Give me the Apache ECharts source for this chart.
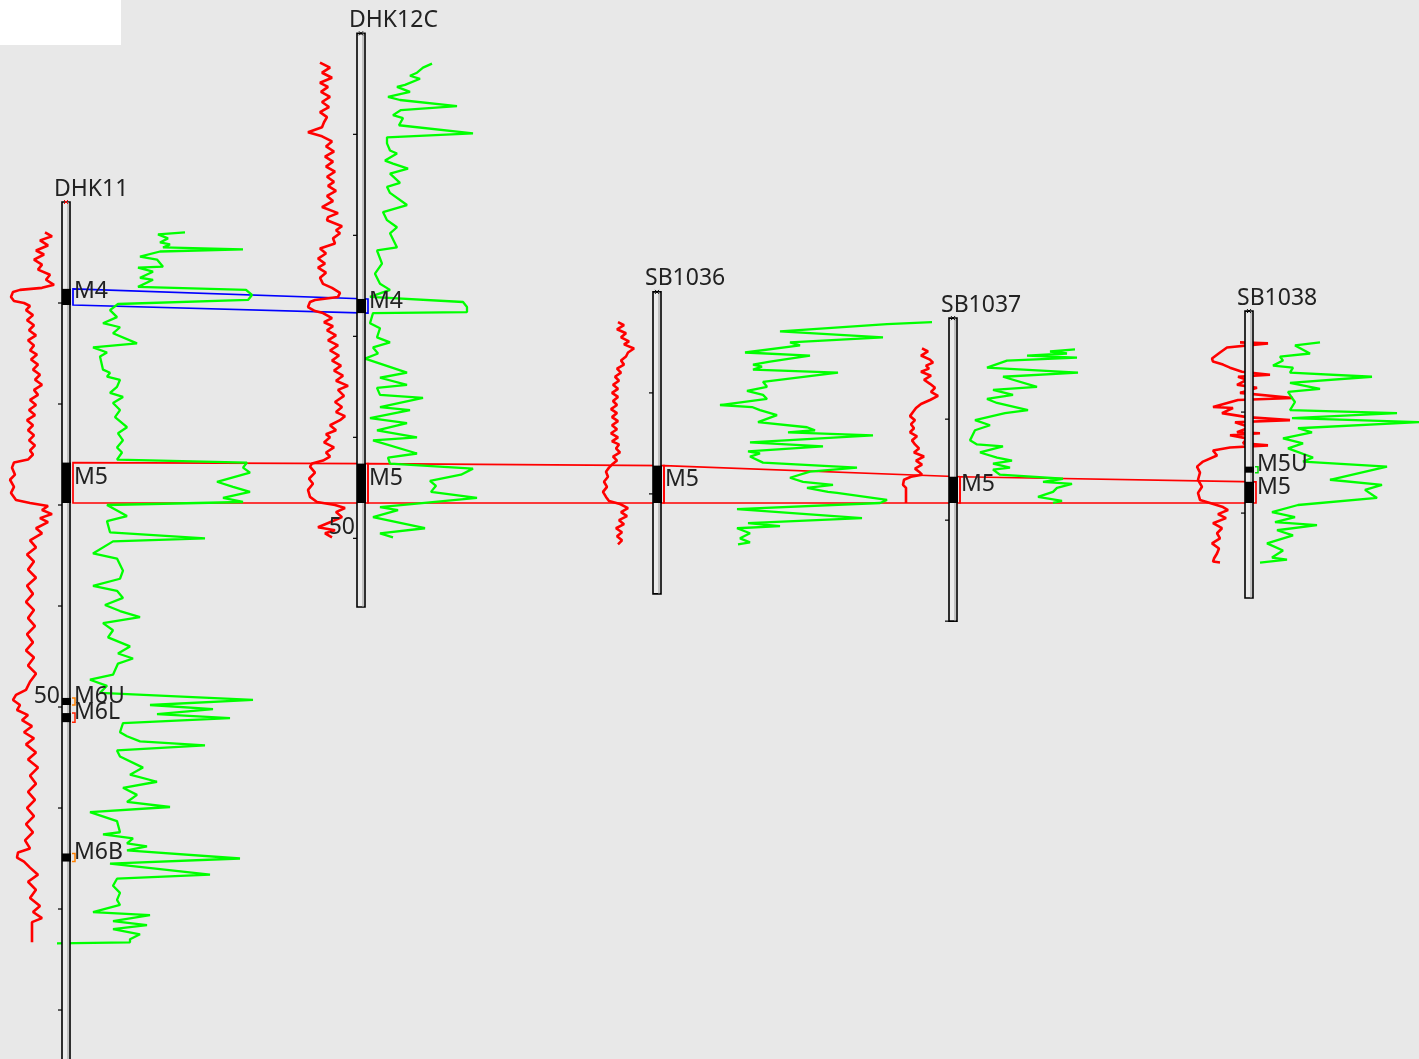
<!DOCTYPE html>
<html>
<head>
<meta charset="utf-8">
<title>Well correlation</title>
<script src="https://cdn.jsdelivr.net/npm/echarts@6/dist/echarts.min.js"></script>
<style>
  html, body { margin: 0; padding: 0; background: #e8e8e8; }
  #chart { width: 1419px; height: 1059px; }
</style>
</head>
<body>
<div id="chart"></div>
<script>
// wells along the section
const wellNames = ["DHK11", "DHK12C", "SB1036", "SB1037", "SB1038"];
const wellDistance = [66, 361, 657, 953, 1249];
const wellTotalDepth = [86, 56.8, 29.9, 30.0, 28.4];

// seam picks (m below collar)
const seamWell = [0, 0, 0, 0, 0, 1, 1, 2, 3, 4, 4];
const seamName = ["M4", "M5", "M6U", "M6L", "M6B", "M4", "M5", "M5", "M5", "M5U", "M5"];
const seamTop = [8.6, 25.8, 49.1, 50.6, 64.5, 26.3, 42.6, 17.2, 15.7, 15.4, 16.9];
const seamBase = [10.2, 29.8, 49.8, 51.5, 65.3, 27.7, 46.5, 20.9, 18.3, 16.0, 19.0];

// correlated seams
const corrSeams = ["M4", "M5"];
const corrColors = ["#0000ff", "#ff0000"];
// seams with no partner get a little coloured bracket
const loneSeams = ["M6U", "M6L", "M6B", "M5U"];
const loneColors = ["#ff8000", "#ff2000", "#ff8000", "#00dd00"];

// section is flattened on the base of M5
const flatSeam = "M5";
const flatDatum = 49.8;

// logs: [depth m, value]
const dhk11Red = [[3.0,39],[3.4,46],[3.8,34],[4.3,42],[4.8,30],[5.2,38],[5.7,28],[6.2,36],[6.7,32],[7.2,44],[7.7,40],[8.2,48],[8.5,36],[8.7,14],[8.9,7],[9.4,5],[9.8,8],[10.0,18],[10.3,24],[10.7,20],[11.2,27],[11.7,21],[12.2,28],[12.7,23],[13.2,30],[13.7,22],[14.2,28],[14.7,24],[15.1,31],[15.6,25],[16.1,32],[16.6,27],[17.1,34],[17.6,29],[18.1,36],[18.6,28],[19.1,32],[19.6,24],[20.1,30],[20.6,23],[21.1,29],[21.6,21],[22.1,27],[22.6,22],[23.1,28],[23.6,23],[24.1,29],[24.6,24],[25.0,27],[25.5,22],[25.8,8],[26.3,6],[27.0,9],[27.5,4],[28.2,8],[28.8,5],[29.5,10],[29.8,24],[30.1,42],[30.5,36],[30.9,46],[31.3,34],[31.7,42],[32.3,30],[32.8,36],[33.5,24],[34.2,30],[34.9,21],[35.6,28],[36.4,22],[37.2,30],[38.0,21],[38.8,27],[39.6,20],[40.4,28],[41.2,22],[42.0,29],[42.8,21],[43.6,27],[44.4,20],[45.1,28],[45.9,22],[46.7,30],[47.5,24],[48.3,20],[48.8,10],[49.3,7],[49.8,14],[50.3,11],[50.8,22],[51.3,16],[51.9,26],[52.5,18],[53.1,28],[53.7,20],[54.5,30],[55.2,22],[56.0,32],[56.8,24],[57.6,30],[58.4,22],[59.2,29],[60.0,21],[60.8,28],[61.6,20],[62.4,27],[63.2,19],[64.0,24],[64.4,12],[64.9,11],[65.3,18],[65.9,24],[66.6,32],[67.3,22],[68.1,30],[68.9,24],[69.7,34],[70.3,27],[70.9,36],[71.3,26],[73.3,26]];
const dhk11Green = [[3.0,139],[3.2,112],[3.6,122],[4.0,114],[4.2,124],[4.5,117],[4.7,197],[4.9,114],[5.4,94],[5.7,111],[6.4,117],[6.5,92],[6.9,107],[7.5,94],[7.7,107],[8.4,92],[8.7,200],[9.2,206],[9.7,202],[10.1,72],[10.7,64],[11.4,71],[12.0,57],[12.4,74],[13.0,67],[14.0,91],[14.4,47],[14.9,61],[15.3,54],[16.6,57],[16.9,64],[17.3,61],[17.6,74],[18.3,71],[18.9,64],[19.3,77],[19.9,67],[20.6,74],[21.3,69],[22.3,81],[22.9,72],[23.6,77],[24.3,71],[24.8,76],[25.5,71],[25.8,201],[26.3,197],[26.8,204],[27.7,171],[28.2,187],[28.7,204],[29.3,177],[29.7,197],[30.0,61],[31.1,81],[31.6,61],[32.7,64],[33.3,159],[33.6,67],[34.8,47],[35.3,71],[36.5,77],[37.3,74],[38.0,47],[38.5,71],[39.2,77],[39.9,59],[40.5,74],[41.1,94],[41.7,57],[42.4,67],[43.1,62],[44.0,84],[44.7,72],[45.2,87],[45.7,72],[46.8,67],[47.3,44],[47.9,61],[48.6,54],[49.3,207],[49.8,104],[50.2,167],[50.7,111],[51.1,184],[51.6,77],[52.5,74],[52.9,81],[53.4,94],[53.8,159],[54.3,71],[54.9,74],[56.0,97],[56.7,84],[57.4,111],[58.0,77],[58.7,91],[59.4,81],[59.9,124],[60.4,44],[61.3,71],[62.4,74],[62.6,57],[63.0,87],[63.5,81],[63.8,101],[64.2,81],[65.0,194],[65.5,64],[66.6,164],[67.0,71],[67.7,67],[68.4,74],[69.1,71],[69.6,74],[70.3,47],[70.6,104],[71.2,67],[71.6,101],[72.0,67],[72.5,94],[73.0,84],[73.3,84],[73.4,11]];

const dhk12cRed = [[2.9,19],[3.4,29],[3.9,21],[4.4,31],[4.9,19],[5.3,27],[5.8,20],[6.3,29],[6.8,21],[7.3,28],[7.8,19],[8.3,26],[8.8,23],[9.3,21],[9.8,7],[10.2,21],[10.7,31],[11.2,25],[11.7,33],[12.2,24],[12.7,32],[13.2,25],[13.7,34],[14.2,26],[14.7,33],[15.1,27],[15.6,35],[16.1,26],[16.6,32],[17.2,21],[17.8,37],[18.2,27],[18.5,26],[19.1,41],[19.5,35],[19.8,39],[20.3,32],[20.8,34],[21.3,19],[21.8,25],[22.3,17],[22.8,24],[23.2,17],[23.7,25],[24.2,19],[24.8,22],[25.2,31],[25.7,39],[26.1,37],[26.4,14],[26.6,9],[27.1,7],[27.5,14],[27.7,22],[28.2,31],[28.6,23],[29.0,32],[29.4,26],[29.9,35],[30.4,27],[30.9,37],[31.4,29],[31.9,38],[32.4,31],[32.9,40],[33.4,33],[33.9,42],[34.4,35],[34.9,47],[35.3,37],[35.9,43],[36.5,34],[37.0,41],[37.5,35],[37.9,44],[38.3,39],[38.8,29],[39.3,35],[39.7,25],[40.0,29],[40.5,23],[41.0,33],[41.5,25],[41.9,29],[42.3,22],[42.6,11],[42.9,9],[43.5,14],[44.1,8],[44.6,12],[45.2,7],[45.9,9],[46.4,16],[46.7,34],[47.0,44],[47.4,35],[47.9,41],[48.4,29],[48.9,17],[49.2,34],[49.5,24],[49.9,31]];
const dhk12cGreen = [[3.0,91],[3.4,82],[3.9,76],[4.2,69],[4.5,79],[5.1,64],[5.3,56],[5.8,69],[6.3,47],[6.6,59],[7.2,116],[7.6,60],[8.1,52],[8.4,62],[9.1,58],[9.9,132],[10.3,46],[10.9,46],[11.6,49],[11.9,56],[12.6,44],[12.9,52],[13.4,67],[13.9,49],[14.8,59],[15.2,46],[15.8,49],[17.0,66],[17.7,42],[18.5,46],[19.2,56],[19.8,49],[21.2,56],[21.5,36],[22.8,41],[23.8,34],[24.8,39],[25.4,49],[26.1,29],[26.6,122],[27.1,126],[27.6,126],[27.7,32],[28.7,29],[29.2,39],[30.1,36],[30.6,49],[31.1,32],[31.7,37],[32.2,24],[33.6,66],[34.1,39],[34.8,66],[35.1,36],[35.8,39],[36.1,82],[37.0,39],[37.3,69],[38.1,29],[38.6,66],[39.3,36],[40.0,76],[40.3,32],[41.6,76],[42.0,47],[42.6,49],[43.1,132],[43.7,120],[44.3,89],[44.8,95],[45.4,90],[46.0,136],[46.9,39],[47.2,57],[47.9,32],[49.0,84],[49.5,39],[49.9,52]];

const sb1036Red = [[3.0,21],[3.3,27],[3.7,20],[4.1,29],[4.5,24],[4.9,32],[5.2,27],[5.6,37],[6.0,31],[6.4,29],[6.8,24],[7.2,27],[7.6,20],[8.0,24],[8.4,18],[8.8,22],[9.2,16],[9.6,21],[10.0,15],[10.4,21],[10.8,16],[11.2,20],[11.6,14],[12.0,20],[12.4,15],[12.8,21],[13.2,15],[13.6,20],[14.0,14],[14.4,21],[14.8,15],[15.1,22],[15.5,19],[15.9,23],[16.3,16],[16.7,20],[17.1,15],[17.4,12],[17.8,9],[18.3,11],[18.8,7],[19.3,10],[19.8,6],[20.3,9],[20.7,12],[21.0,23],[21.4,31],[21.8,24],[22.2,30],[22.6,22],[23.0,27],[23.4,19],[23.8,25],[24.2,20],[24.6,25],[25.0,21]];
const sb1036Green = [[3.0,295],[3.2,250],[3.9,143],[4.5,246],[5.0,153],[5.3,163],[6.0,108],[6.3,173],[6.9,133],[7.2,116],[7.4,125],[7.7,116],[8.0,201],[8.9,126],[9.4,130],[9.8,110],[10.2,126],[10.6,130],[11.2,83],[11.4,115],[11.7,123],[12.2,140],[12.9,121],[13.4,170],[13.7,178],[13.9,151],[14.2,236],[14.9,113],[15.3,186],[15.8,111],[16.0,123],[16.3,113],[16.9,126],[17.4,220],[17.8,173],[18.4,153],[18.8,166],[19.1,196],[19.4,170],[19.8,191],[19.9,200],[20.6,250],[20.9,243],[21.5,100],[22.4,225],[22.9,111],[23.2,143],[23.4,100],[23.9,113],[24.4,103],[24.8,113],[25.0,101]];

const sb1037Red = [[3.0,29],[3.3,35],[3.7,28],[4.1,37],[4.4,40],[4.7,33],[5.0,36],[5.3,28],[5.7,38],[6.1,31],[6.5,37],[6.9,42],[7.3,38],[7.7,45],[8.1,37],[8.5,28],[8.9,23],[9.3,20],[9.7,17],[10.1,22],[10.5,18],[10.9,21],[11.3,17],[11.7,24],[12.1,19],[12.5,22],[12.9,26],[13.3,21],[13.7,31],[14.1,23],[14.5,29],[14.9,22],[15.2,26],[15.5,29],[15.7,18],[16.0,11],[16.5,10],[16.8,13],[18.3,13]];
const sb1037Green = [[3.1,142],[3.3,117],[3.5,134],[3.7,94],[3.9,144],[4.2,74],[4.9,54],[5.4,145],[5.8,70],[6.8,104],[7.1,60],[7.6,80],[8.0,54],[8.4,64],[9.1,95],[9.4,72],[10.1,42],[10.6,57],[11.1,42],[12.1,37],[12.5,44],[12.7,70],[13.3,47],[13.8,64],[14.1,79],[14.4,60],[14.8,77],[15.0,60],[15.5,67],[15.9,130],[16.2,110],[16.4,139],[16.8,124],[17.2,120],[17.7,105],[18.1,129],[18.3,120]];

const sb1038Red = [[3.1,51],[3.2,79],[3.6,38],[4.1,31],[4.7,23],[5.0,24],[5.3,34],[5.6,41],[6.0,53],[6.3,81],[6.5,49],[6.8,58],[7.3,48],[7.6,68],[8.1,51],[8.6,104],[8.8,49],[9.5,24],[9.6,44],[10.1,33],[10.5,58],[10.8,101],[11.0,46],[11.5,61],[12.0,48],[12.1,71],[12.3,41],[12.6,58],[13.1,54],[13.3,79],[13.5,41],[13.8,24],[14.3,28],[14.9,14],[15.4,8],[16.0,11],[16.7,9],[17.4,13],[18.0,9],[18.7,11],[19.0,21],[19.4,34],[19.7,39],[20.1,29],[20.5,37],[21.0,24],[21.5,33],[22.0,28],[22.5,31],[23.0,23],[23.5,30],[24.0,28],[24.5,25],[24.8,24],[24.9,31]];
const sb1038Green = [[3.1,91],[3.4,66],[4.2,81],[4.5,51],[4.9,54],[5.4,44],[5.6,64],[6.1,61],[6.5,143],[7.1,61],[7.7,91],[8.0,59],[8.6,63],[9.0,66],[9.8,61],[10.1,168],[10.6,63],[11.0,190],[11.6,69],[12.0,83],[12.6,54],[13.1,74],[13.6,59],[14.5,84],[14.9,74],[15.4,158],[16.7,101],[17.2,153],[17.7,136],[18.5,148],[19.2,69],[19.9,43],[20.4,66],[20.9,46],[21.2,88],[21.7,48],[22.2,64],[23.0,38],[23.7,54],[24.4,43],[24.6,58],[24.9,31]];

const redLogs = [dhk11Red, dhk12cRed, sb1036Red, sb1037Red, sb1038Red];
const greenLogs = [dhk11Green, dhk12cGreen, sb1036Green, sb1037Green, sb1038Green];

const tickStep = 10;
const depthLabelStep = 50;

// ---- layout ----
const redTrackOffset = -60;
const greenTrackOffset = -20;
const colHalf = 4;
const font = '23px "Noto Sans"';
const textColor = "#222";

// shift each well so the flattening seam base lines up
const wellShift = wellNames.map((n, i) => {
  const k = seamName.findIndex((s, j) => s === flatSeam && seamWell[j] === i);
  return flatDatum - seamBase[k];
});

const chart = echarts.init(document.getElementById("chart"));

function renderWell(params, api) {
  const i = api.value(3);
  const x = api.value(0), shift = api.value(1), td = api.value(2);
  const top = api.coord([x, shift]);
  const bot = api.coord([x, shift + td]);
  const kids = [];
  kids.push({ type: "rect", shape: { x: top[0] - colHalf, y: top[1], width: colHalf * 2, height: bot[1] - top[1] },
    style: { fill: "#ececec", stroke: "#000", lineWidth: 1.6 } });
  kids.push({ type: "line", shape: { x1: top[0] + 2, y1: top[1], x2: top[0] + 2, y2: bot[1] },
    style: { stroke: "#999", lineWidth: 1 } });
  for (let d = tickStep; d <= td + 0.01; d += tickStep) {
    const p = api.coord([x, shift + d]);
    kids.push({ type: "line", shape: { x1: p[0] - 8, y1: p[1], x2: p[0] - colHalf, y2: p[1] },
      style: { stroke: "#000", lineWidth: 1.2 } });
    if (d % depthLabelStep === 0) {
      kids.push({ type: "text", style: { text: String(d), x: p[0] - 6, y: p[1] + 1, font: font,
        fill: textColor, align: "right", verticalAlign: "bottom" } });
    }
  }
  const cc = i === 0 ? "#ff0000" : "#000";
  kids.push({ type: "line", shape: { x1: top[0] - 2, y1: top[1] - 2, x2: top[0] + 2, y2: top[1] + 2 }, style: { stroke: cc, lineWidth: 1 } });
  kids.push({ type: "line", shape: { x1: top[0] - 2, y1: top[1] + 2, x2: top[0] + 2, y2: top[1] - 2 }, style: { stroke: cc, lineWidth: 1 } });
  kids.push({ type: "text", style: { text: wellNames[i], x: top[0] - 12, y: top[1] - 13, font: font,
    fill: textColor, align: "left", verticalAlign: "middle" } });
  return { type: "group", children: kids };
}

function renderSeam(params, api) {
  const k = api.value(3);
  const a = api.coord([api.value(0), api.value(1)]);
  const b = api.coord([api.value(0), api.value(2)]);
  const kids = [
    { type: "rect", shape: { x: a[0] - colHalf, y: a[1], width: colHalf * 2 + 1, height: b[1] - a[1] }, style: { fill: "#000" } },
    { type: "text", style: { text: seamName[k], x: a[0] + 8, y: (a[1] + b[1]) / 2 - 5, font: font,
      fill: textColor, align: "left", verticalAlign: "middle" } }
  ];
  const li = loneSeams.indexOf(seamName[k]);
  if (li >= 0) {
    kids.push({ type: "polyline", shape: { points: [[a[0] + 6, a[1]], [a[0] + 9, a[1]], [a[0] + 9, b[1]], [a[0] + 6, b[1]]] },
      style: { stroke: loneColors[li], lineWidth: 1.5, fill: null } });
  }
  return { type: "group", children: kids };
}

function renderCorr(params, api) {
  const a1 = api.coord([api.value(0), api.value(1)]);
  const a2 = api.coord([api.value(0), api.value(2)]);
  const b1 = api.coord([api.value(3), api.value(4)]);
  const b2 = api.coord([api.value(3), api.value(5)]);
  const dx = 7;
  return { type: "polygon", shape: { points: [[a1[0] + dx, a1[1]], [b1[0] + dx, b1[1]], [b2[0] + dx, b2[1]], [a2[0] + dx, a2[1]]] },
    style: { fill: null, stroke: corrColors[api.value(6)], lineWidth: 1.7 } };
}

const corrData = [];
corrSeams.forEach((name, c) => {
  const picks = [];
  seamName.forEach((s, j) => { if (s === name) picks.push(j); });
  picks.sort((p, q) => wellDistance[seamWell[p]] - wellDistance[seamWell[q]]);
  for (let n = 0; n + 1 < picks.length; n++) {
    const p = picks[n], q = picks[n + 1];
    const wp = seamWell[p], wq = seamWell[q];
    corrData.push([wellDistance[wp], wellShift[wp] + seamTop[p], wellShift[wp] + seamBase[p],
      wellDistance[wq], wellShift[wq] + seamTop[q], wellShift[wq] + seamBase[q], c]);
  }
});

const series = [];
series.push({ type: "custom", renderItem: renderCorr, data: corrData, z: 1, silent: true, clip: false });
wellNames.forEach((n, i) => {
  series.push({ type: "line", z: 2, silent: true, showSymbol: false, animation: false,
    data: redLogs[i].map(p => [wellDistance[i] + redTrackOffset + p[1], wellShift[i] + p[0]]),
    lineStyle: { color: "#ff0000", width: 2.6 } });
  series.push({ type: "line", z: 3, silent: true, showSymbol: false, animation: false,
    data: greenLogs[i].map(p => [wellDistance[i] + greenTrackOffset + p[1], wellShift[i] + p[0]]),
    lineStyle: { color: "#00ff00", width: 2.3 } });
});
series.push({ type: "custom", renderItem: renderWell, z: 5, silent: true, clip: false,
  data: wellNames.map((n, i) => [wellDistance[i], wellShift[i], wellTotalDepth[i], i]) });
series.push({ type: "custom", renderItem: renderSeam, z: 6, silent: true, clip: false,
  data: seamName.map((s, j) => [wellDistance[seamWell[j]], wellShift[seamWell[j]] + seamTop[j], wellShift[seamWell[j]] + seamBase[j], j]) });

chart.setOption({
  backgroundColor: "#e8e8e8",
  animation: false,
  grid: { left: 0, right: 0, top: 0, bottom: 0 },
  xAxis: { type: "value", min: 0, max: 1419, show: false },
  yAxis: { type: "value", min: 0, max: 104.85, inverse: true, show: false },
  graphic: [{ type: "rect", left: 0, top: 0, shape: { width: 121, height: 45 }, style: { fill: "#fff" } }],
  series: series
});
</script>
</body>
</html>
